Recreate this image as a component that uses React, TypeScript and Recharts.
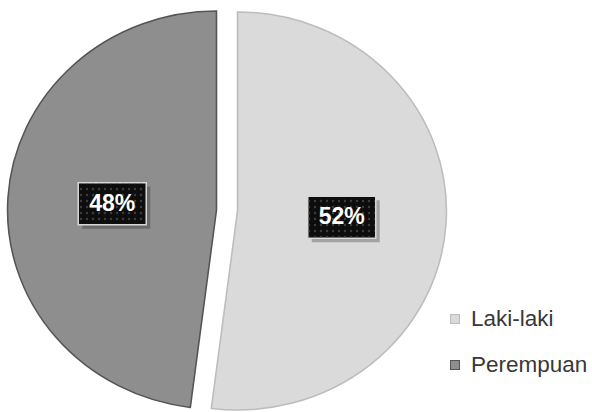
import { PieChart, Pie, Cell, Legend } from 'recharts';

const categories = ['Laki-laki', 'Perempuan'];
const shares = [52, 48];
const colors = ['#dadada', '#8e8e8e'];
const edgeColors = ['#bdbdbd', '#555555'];

const data = categories.map((name, i) => ({ name, value: shares[i] }));

// exploded slices: each slice gets its own pie centre
const centres = [
  { cx: 237, cy: 211 },
  { cx: 217, cy: 210 },
];
const RADIUS = 199;
const SX = 1.05; // the original pie is a little wider than tall
const RAD = Math.PI / 180;

const makeLabel = (visible: number) => (props: any) => {
  const { cx, cy, midAngle, outerRadius, value, index } = props;
  if (index !== visible) return null;
  const r = outerRadius * 0.5;
  const x = 227 + (cx - 227) * SX + r * Math.cos(-midAngle * RAD) * SX;
  const y = cy + r * Math.sin(-midAngle * RAD);
  const w = 68;
  const h = 42;
  return (
    <g>
      <rect x={x - w / 2 + 4} y={y - h / 2 + 4} width={w} height={h} fill="#000" opacity={0.25} />
      <rect x={x - w / 2} y={y - h / 2} width={w} height={h} fill="#0d0d0d" stroke="#d8d8d8" strokeWidth={1.5} />
      <rect x={x - w / 2 + 1} y={y - h / 2 + 1} width={w - 2} height={h - 2} fill="url(#dots)" />
      <text
        x={x}
        y={y + 1}
        textAnchor="middle"
        dominantBaseline="middle"
        fill="#ffffff"
        fontFamily="Liberation Sans, Arial, sans-serif"
        fontWeight="bold"
        fontSize={23}
      >
        {`${value}%`}
      </text>
    </g>
  );
};

const renderLegend = (props: any) => {
  const seen = new Set<string>();
  const items = (props.payload || []).filter((e: any) => {
    if (seen.has(e.value)) return false;
    seen.add(e.value);
    return true;
  });
  return (
    <div style={{ fontFamily: 'Liberation Sans, Arial, sans-serif' }}>
      {items.map((entry: any) => {
        const i = categories.indexOf(entry.value);
        return (
          <div key={entry.value} style={{ display: 'flex', alignItems: 'center', height: 46 }}>
            <span
              style={{
                display: 'inline-block',
                width: 8,
                height: 8,
                background: colors[i],
                border: `1px solid ${edgeColors[i]}`,
                marginRight: 11,
              }}
            />
            <span style={{ fontSize: 22.5, color: '#383838' }}>{entry.value}</span>
          </div>
        );
      })}
    </div>
  );
};

export default function App() {
  return (
    <div style={{ position: 'absolute', left: 0, top: 0, width: 592, height: 412, background: '#fff' }}>
      <style>{`.recharts-pie-sector { transform: scaleX(${SX}); transform-origin: 227px 211px; }`}</style>
      <PieChart width={592} height={412} margin={{ top: 0, right: 0, bottom: 0, left: 0 }}>
        <defs>
          <pattern id="dots" width="6" height="6" patternUnits="userSpaceOnUse">
            <circle cx="3" cy="3" r="1.2" fill="#3c3c3c" />
          </pattern>
        </defs>
        {centres.map((c, k) => (
          <Pie
            key={k}
            data={data}
            dataKey="value"
            nameKey="name"
            cx={c.cx}
            cy={c.cy}
            innerRadius={0}
            outerRadius={RADIUS}
            startAngle={90}
            endAngle={-270}
            isAnimationActive={false}
            labelLine={false}
            label={makeLabel(k)}
          >
            {data.map((d, i) => (
              <Cell
                key={d.name}
                fill={i === k ? colors[i] : 'none'}
                stroke={i === k ? edgeColors[i] : 'none'}
                strokeWidth={1.5}
              />
            ))}
          </Pie>
        ))}
        <Legend
          content={renderLegend}
          layout="vertical"
          wrapperStyle={{ position: 'absolute', left: 450, top: 296, width: 142 }}
        />
      </PieChart>
    </div>
  );
}
